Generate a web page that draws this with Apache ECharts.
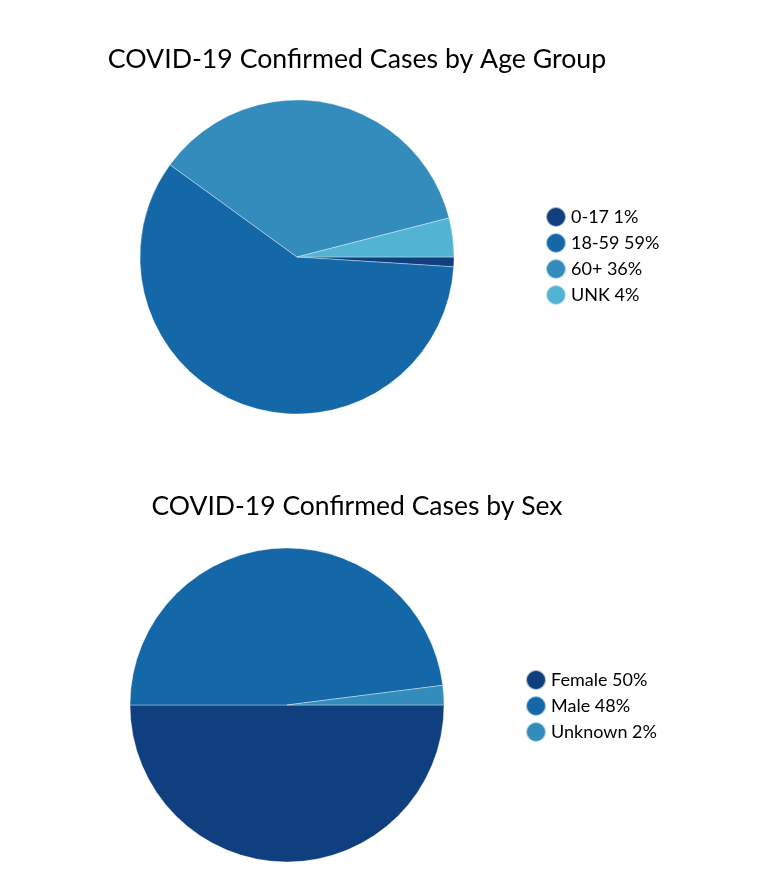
<!DOCTYPE html>
<html><head><meta charset="utf-8">
<script src="https://cdn.jsdelivr.net/npm/echarts@6/dist/echarts.min.js"></script>
<style>html,body{margin:0;padding:0;background:#fff}#c{width:760px;height:874px}</style>
</head><body><div id="c"></div>
<script>
var ageCategories = ['0-17', '18-59', '60+', 'UNK'];
var ageValues = [1, 59, 36, 4];
var ageLabels = ['1%', '59%', '36%', '4%'];
var sexCategories = ['Female', 'Male', 'Unknown'];
var sexValues = [50, 48, 2];
var sexLabels = ['50%', '48%', '2%'];
var ageColors = ['#0f3f7e', '#1468a8', '#348cbd', '#52b3d3'];
var sexColors = ['#0f3f7e', '#1468a8', '#348cbd'];

var FONT = 'Lato';
function mk(cats, vals, cols) {
  return cats.map(function (c, i) { return { name: c, value: vals[i], itemStyle: { color: cols[i] } }; });
}
function lookup(cats, labels) {
  return function (name) { var i = cats.indexOf(name); return name + ' ' + labels[i]; };
}
var legendText = { fontFamily: FONT, fontSize: 18, lineHeight: 20, color: '#000' };
var chart = echarts.init(document.getElementById('c'), null, { renderer: 'canvas' });
chart.setOption({
  animation: false,
  title: [
    { text: 'COVID-19 Confirmed Cases by Age Group', left: 352, top: 41, textAlign: 'center',
      textStyle: { fontFamily: FONT, fontSize: 26.7, fontWeight: 'normal', color: '#000' } },
    { text: 'COVID-19 Confirmed Cases by Sex', left: 352, top: 488, textAlign: 'center',
      textStyle: { fontFamily: FONT, fontSize: 26.5, fontWeight: 'normal', color: '#000' } }
  ],
  legend: [
    { data: ageCategories, orient: 'vertical', left: 545, top: 206, padding: 0, icon: 'circle',
      itemWidth: 20, itemHeight: 20, itemGap: 4, itemTextGap: 5, formatter: lookup(ageCategories, ageLabels),
      selectedMode: false, textStyle: legendText },
    { data: sexCategories, orient: 'vertical', left: 525, top: 669, padding: 0, icon: 'circle',
      itemWidth: 20, itemHeight: 20, itemGap: 4, itemTextGap: 5, formatter: lookup(sexCategories, sexLabels),
      selectedMode: false, textStyle: legendText }
  ],
  series: [
    { type: 'pie', center: [297, 257], radius: [0, 157], startAngle: 0, clockwise: true,
      label: { show: false }, labelLine: { show: false }, emphasis: { disabled: true },
      itemStyle: { borderColor: 'rgba(255,255,255,0.6)', borderWidth: 0.6 },
      data: mk(ageCategories, ageValues, ageColors) },
    { type: 'pie', center: [287, 705], radius: [0, 157], startAngle: 0, clockwise: true,
      label: { show: false }, labelLine: { show: false }, emphasis: { disabled: true },
      itemStyle: { borderColor: 'rgba(255,255,255,0.6)', borderWidth: 0.6 },
      data: mk(sexCategories, sexValues, sexColors) }
  ]
});
</script></body></html>
